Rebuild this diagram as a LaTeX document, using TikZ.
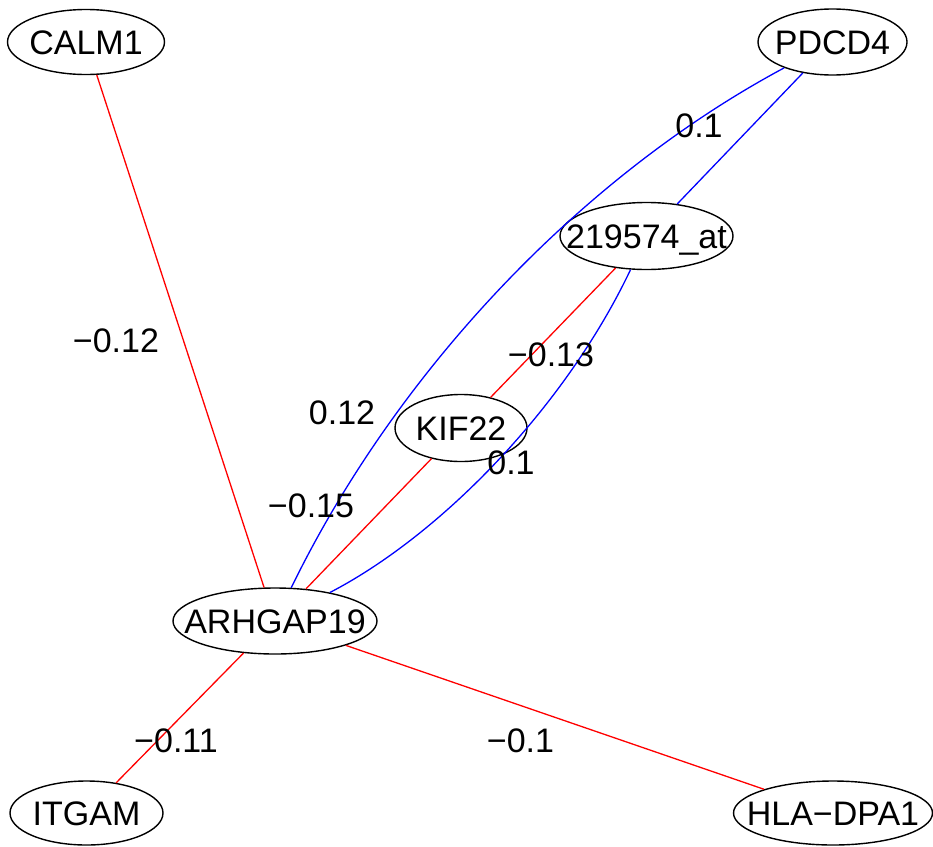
\documentclass[tikz,border=0pt]{standalone}
\usepackage{fontspec}
\setmainfont{Liberation Sans}
\usetikzlibrary{shapes.geometric,calc}
\begin{document}
\begin{tikzpicture}[x=1pt,y=-1pt,
  vert/.style={ellipse,draw=black,line width=1.4pt,inner sep=0pt},
  vtext/.style={font=\fontsize{34}{34}\selectfont,inner sep=0pt,text height=24.3pt,text depth=0pt},
  elab/.style={font=\fontsize{34}{34}\selectfont,inner sep=0pt,text height=24.3pt,text depth=0pt},
  posedge/.style={draw=blue,line width=1.3pt},
  negedge/.style={draw=red,line width=1.3pt}]
\useasboundingbox (0,0) rectangle (933,846);
% vertices
\node[vert,minimum width=157pt,minimum height=65pt] (CALM1) at (86,42) {};
\node[vert,minimum width=149pt,minimum height=66pt] (PDCD4) at (832.5,42) {};
\node[vert,minimum width=173pt,minimum height=67pt] (AT) at (646.5,236) {};
\node[vert,minimum width=132pt,minimum height=67pt] (KIF22) at (461,428) {};
\node[vert,minimum width=204pt,minimum height=66pt] (ARHGAP19) at (275,621) {};
\node[vert,minimum width=153pt,minimum height=64pt] (ITGAM) at (86.5,813) {};
\node[vert,minimum width=199pt,minimum height=64pt] (HLA) at (833,813) {};
% vertex texts
\node[vtext] (tCALM1) at (CALM1.center) {CALM1};
\node[vtext] (tPDCD4) at (PDCD4.center) {PDCD4};
\node[vtext] (tAT) at (AT.center) {219574\_at};
\node[vtext] (tKIF22) at (KIF22.center) {KIF22};
\node[vtext] (tARHGAP19) at (ARHGAP19.center) {ARHGAP19};
\node[vtext] (tITGAM) at (ITGAM.center) {ITGAM};
\node[vtext] (tHLA) at (HLA.center) {HLA−DPA1};
% control points of curved edges
\coordinate (cA) at (460,241.4);
\coordinate (cB) at (525.5,491);
\coordinate (a1) at ($(PDCD4.center)!2/3!(cA)$);
\coordinate (a2) at ($(ARHGAP19.center)!2/3!(cA)$);
\coordinate (b1) at ($(AT.center)!2/3!(cB)$);
\coordinate (b2) at ($(ARHGAP19.center)!2/3!(cB)$);
% edges
\draw[negedge] (CALM1) -- (ARHGAP19);
\draw[negedge] (ARHGAP19) -- (ITGAM);
\draw[negedge] (ARHGAP19) -- (HLA);
\draw[negedge] (KIF22) -- (AT);
\draw[negedge] (KIF22) -- (ARHGAP19);
\draw[posedge] (PDCD4) -- (AT);
\draw[posedge] (PDCD4) .. controls (a1) and (a2) .. (ARHGAP19);
\draw[posedge] (AT) .. controls (b1) and (b2) .. (ARHGAP19);
% edge labels
\node[elab] (l1) at (116,340) {−0.12};
\node[elab] (l2) at (699,125) {0.1};
\node[elab] (l3) at (342,412) {0.12};
\node[elab] (l4) at (551,354) {−0.13};
\node[elab] (l5) at (511,462) {0.1};
\node[elab] (l6) at (311,505) {−0.15};
\node[elab] (l7) at (176,740) {−0.11};
\node[elab] (l8) at (520.5,740) {−0.1};
\end{tikzpicture}
\end{document}
